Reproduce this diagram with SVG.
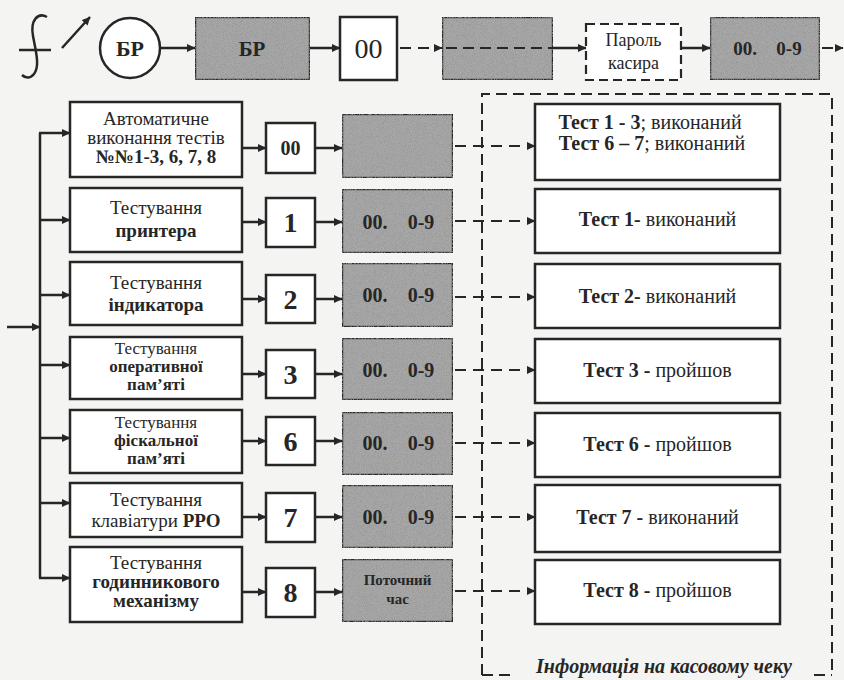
<svg xmlns="http://www.w3.org/2000/svg" width="844" height="680" viewBox="0 0 844 680" font-family="'Liberation Serif', 'Times New Roman', Tinos, 'DejaVu Serif', 'Noto Serif', serif">
<style>
text{font-family:'Liberation Serif','Times New Roman',Tinos,'DejaVu Serif','Noto Serif',serif;fill:#262626;text-anchor:middle}
.b{font-weight:bold}
.box{fill:#fff;stroke:#262626;stroke-width:2.5}
.gr{fill:#a7a7a7;stroke:#262626;stroke-width:2.5}
.dbox{fill:#fff;stroke:#262626;stroke-width:2.2;stroke-dasharray:9 5}
.ln{fill:none;stroke:#262626;stroke-width:2.5}
.arr{fill:none;stroke:#262626;stroke-width:2.5;marker-end:url(#ah)}
.darr{fill:none;stroke:#262626;stroke-width:2.2;stroke-dasharray:11 7;marker-end:url(#ah)}
.dl{fill:none;stroke:#262626;stroke-width:2;stroke-dasharray:11 6}
.t18{font-size:19px}
.t17{font-size:17px}
.t19{font-size:20px}
.t26{font-size:28px}
</style>
<defs>
<marker id="ah" markerUnits="userSpaceOnUse" markerWidth="9" markerHeight="9" refX="8" refY="4.5" orient="auto">
<path d="M0,0.5 L8.5,4.5 L0,8.5 z" fill="#262626"/>
</marker>
<filter id="grain" x="0" y="0" width="100%" height="100%">
<feTurbulence type="fractalNoise" baseFrequency="1.1" numOctaves="2" seed="4" result="n"/>
<feColorMatrix in="n" type="matrix" values="0 0 0 0 0.3  0 0 0 0 0.3  0 0 0 0 0.3  2.4 0 0 0 -1.0" result="s"/>
<feComposite in="s" in2="SourceGraphic" operator="in" result="c"/>
<feMerge><feMergeNode in="SourceGraphic"/><feMergeNode in="c"/></feMerge>
</filter>
</defs>
<rect width="844" height="680" fill="#f4f4f2"/>

<!-- top row -->
<g id="switch">
<path class="ln" d="M47,17 C38,12 30,20 33,36 C36,52 40,66 34,74 C30,79 25,78 22,75" stroke-width="2"/>
<line class="ln" x1="19" y1="50" x2="51" y2="50" stroke-width="2"/>
<line class="arr" x1="62" y1="48" x2="90" y2="17" stroke-width="2"/>
</g>
<g id="br-circle">
<circle cx="130" cy="48" r="30" fill="#fff" stroke="#262626" stroke-width="2.5"/>
<text class="b" x="130" y="56" font-size="22">БР</text>
</g>
<g id="br-box">
<rect class="gr" x="195" y="17" width="115" height="63" filter="url(#grain)"/>
<text class="b" x="252" y="56" font-size="21">БР</text>
</g>
<g id="zero-box">
<rect class="box" x="340" y="17" width="57" height="63"/>
<text x="368.5" y="58" font-size="28">00</text>
</g>
<g id="blank-top">
<rect class="gr" x="442" y="17" width="111" height="63" filter="url(#grain)"/>
</g>
<g id="password">
<rect class="dbox" x="586" y="24" width="95" height="56"/>
<text x="633.5" y="46" font-size="18">Пароль</text>
<text x="633.5" y="69" font-size="18">касира</text>
</g>
<g id="code-top">
<rect class="gr" x="710" y="17" width="110" height="63" filter="url(#grain)"/>
<text class="b" x="745" y="55" font-size="19">00.</text>
<text class="b" x="789" y="55" font-size="19">0-9</text>
</g>

<!-- left column -->
<g id="auto-tests">
<rect class="box" x="70" y="102" width="172" height="75"/>
<text class="t18" x="156" y="125">Автоматичне</text>
<text class="t18" x="156" y="144">виконання тестів</text>
<text class="t18 b" x="156" y="163">№№1-3, 6, 7, 8</text>
</g>
<g id="printer">
<rect class="box" x="70" y="188" width="172" height="64"/>
<text class="t18" x="156" y="214">Тестування</text>
<text class="t18 b" x="156" y="237">принтера</text>
</g>
<g id="indicator">
<rect class="box" x="70" y="262" width="172" height="63"/>
<text class="t18" x="156" y="289">Тестування</text>
<text class="t18 b" x="156" y="311">індикатора</text>
</g>
<g id="ram">
<rect class="box" x="70" y="337" width="172" height="62"/>
<text class="t17" x="156" y="354">Тестування</text>
<text class="t17 b" x="156" y="372">оперативної</text>
<text class="t17 b" x="156" y="390">пам’яті</text>
</g>
<g id="fiscal">
<rect class="box" x="70" y="410" width="172" height="63"/>
<text class="t17" x="156" y="428">Тестування</text>
<text class="t17 b" x="156" y="446">фіскальної</text>
<text class="t17 b" x="156" y="464">пам’яті</text>
</g>
<g id="keyboard">
<rect class="box" x="70" y="483" width="172" height="54"/>
<text class="t18" x="156" y="506">Тестування</text>
<text class="t18" x="156" y="527">клавіатури <tspan class="b">РРО</tspan></text>
</g>
<g id="clock">
<rect class="box" x="70" y="547" width="172" height="75"/>
<text class="t18" x="156" y="569">Тестування</text>
<text class="t18 b" x="156" y="588">годинникового</text>
<text class="t18 b" x="156" y="607">механізму</text>
</g>

<!-- number boxes -->
<g id="n00"><rect class="box" x="266" y="123" width="49" height="50"/><text class="b" x="290.5" y="155" font-size="20">00</text></g>
<g id="n1"><rect class="box" x="266" y="198" width="49" height="49"/><text class="t26 b" x="290.5" y="232">1</text></g>
<g id="n2"><rect class="box" x="266" y="275" width="49" height="48"/><text class="t26 b" x="290.5" y="309">2</text></g>
<g id="n3"><rect class="box" x="266" y="350" width="49" height="48"/><text class="t26 b" x="290.5" y="384">3</text></g>
<g id="n6"><rect class="box" x="266" y="417" width="49" height="48"/><text class="t26 b" x="290.5" y="451">6</text></g>
<g id="n7"><rect class="box" x="266" y="493" width="49" height="49"/><text class="t26 b" x="290.5" y="527">7</text></g>
<g id="n8"><rect class="box" x="266" y="568" width="49" height="49"/><text class="t26 b" x="290.5" y="602">8</text></g>

<!-- gray display boxes -->
<g id="g1"><rect class="gr" x="342" y="114" width="111" height="64" filter="url(#grain)"/></g>
<g id="g2"><rect class="gr" x="342" y="189" width="111" height="64" filter="url(#grain)"/><text class="b t19" x="375" y="229">00.</text><text class="b t19" x="421" y="229">0-9</text></g>
<g id="g3"><rect class="gr" x="342" y="263" width="111" height="64" filter="url(#grain)"/><text class="b t19" x="375" y="302">00.</text><text class="b t19" x="421" y="302">0-9</text></g>
<g id="g4"><rect class="gr" x="342" y="338" width="111" height="62" filter="url(#grain)"/><text class="b t19" x="375" y="377">00.</text><text class="b t19" x="421" y="377">0-9</text></g>
<g id="g5"><rect class="gr" x="342" y="412" width="111" height="63" filter="url(#grain)"/><text class="b t19" x="375" y="450">00.</text><text class="b t19" x="421" y="450">0-9</text></g>
<g id="g6"><rect class="gr" x="342" y="485" width="111" height="63" filter="url(#grain)"/><text class="b t19" x="375" y="524">00.</text><text class="b t19" x="421" y="524">0-9</text></g>
<g id="g7"><rect class="gr" x="342" y="559" width="111" height="63" filter="url(#grain)"/><text class="b" x="397.5" y="585" font-size="15">Поточний</text><text class="b" x="397.5" y="604" font-size="15">час</text></g>

<!-- results -->
<g id="receipt-frame">
<path class="dl" d="M482,675 V94 H832 V675"/>
<path class="dl" d="M482,675 H514"/>
<path class="dl" d="M814,675 H832"/>
<text class="b" x="664" y="673" font-size="20" font-style="italic">Інформація на касовому чеку</text>
</g>
<g id="r1"><rect class="box" x="535" y="104" width="245" height="76"/>
<text class="t19" x="650" y="129"><tspan class="b">Тест 1 - 3</tspan>; виконаний</text>
<text class="t19" x="652" y="150"><tspan class="b">Тест 6 – 7</tspan>; виконаний</text></g>
<g id="r2"><rect class="box" x="535" y="189" width="245" height="64"/><text class="t19" x="657.5" y="226"><tspan class="b">Тест 1-</tspan> виконаний</text></g>
<g id="r3"><rect class="box" x="535" y="264" width="245" height="64"/><text class="t19" x="657.5" y="303"><tspan class="b">Тест 2-</tspan> виконаний</text></g>
<g id="r4"><rect class="box" x="535" y="339" width="245" height="64"/><text class="t19" x="657.5" y="377"><tspan class="b">Тест 3 -</tspan> пройшов</text></g>
<g id="r5"><rect class="box" x="535" y="413" width="245" height="64"/><text class="t19" x="657.5" y="451"><tspan class="b">Тест 6 -</tspan> пройшов</text></g>
<g id="r6"><rect class="box" x="535" y="485" width="245" height="67"/><text class="t19" x="657.5" y="524"><tspan class="b">Тест 7 -</tspan> виконаний</text></g>
<g id="r7"><rect class="box" x="535" y="560" width="245" height="64"/><text class="t19" x="657.5" y="597"><tspan class="b">Тест 8 -</tspan> пройшов</text></g>

<!-- connectors -->
<g id="connectors">
<line class="arr" x1="160" y1="48" x2="195" y2="48"/>
<line class="arr" x1="310" y1="48" x2="340" y2="48"/>
<line class="darr" x1="400" y1="48" x2="442" y2="48"/>
<line class="dl" x1="446" y1="48" x2="553" y2="48"/>
<line class="arr" x1="553" y1="48" x2="586" y2="48"/>
<line class="arr" x1="681" y1="48" x2="710" y2="48"/>
<line class="darr" x1="822" y1="48" x2="843" y2="48" stroke-dasharray="7 5"/>

<line class="arr" x1="7" y1="327" x2="40" y2="327"/>
<line class="ln" x1="40" y1="133" x2="40" y2="578"/>
<line class="arr" x1="39" y1="133" x2="70" y2="133"/>
<line class="arr" x1="39" y1="220" x2="70" y2="220"/>
<line class="arr" x1="39" y1="295" x2="70" y2="295"/>
<line class="arr" x1="39" y1="365" x2="70" y2="365"/>
<line class="arr" x1="39" y1="438" x2="70" y2="438"/>
<line class="arr" x1="39" y1="503" x2="70" y2="503"/>
<line class="arr" x1="39" y1="578" x2="70" y2="578"/>

<line class="arr" x1="242" y1="148" x2="266" y2="148"/>
<line class="arr" x1="242" y1="222" x2="266" y2="222"/>
<line class="arr" x1="242" y1="299" x2="266" y2="299"/>
<line class="arr" x1="242" y1="374" x2="266" y2="374"/>
<line class="arr" x1="242" y1="441" x2="266" y2="441"/>
<line class="arr" x1="242" y1="517" x2="266" y2="517"/>
<line class="arr" x1="242" y1="592" x2="266" y2="592"/>

<line class="arr" x1="315" y1="148" x2="342" y2="148"/>
<line class="arr" x1="315" y1="222" x2="342" y2="222"/>
<line class="arr" x1="315" y1="299" x2="342" y2="299"/>
<line class="arr" x1="315" y1="374" x2="342" y2="374"/>
<line class="arr" x1="315" y1="441" x2="342" y2="441"/>
<line class="arr" x1="315" y1="517" x2="342" y2="517"/>
<line class="arr" x1="315" y1="592" x2="342" y2="592"/>

<line class="darr" x1="455" y1="146" x2="535" y2="146"/>
<line class="darr" x1="455" y1="221" x2="535" y2="221"/>
<line class="darr" x1="455" y1="297" x2="535" y2="297"/>
<line class="darr" x1="455" y1="370" x2="535" y2="370"/>
<line class="darr" x1="455" y1="443" x2="535" y2="443"/>
<line class="darr" x1="455" y1="517" x2="535" y2="517"/>
<line class="darr" x1="455" y1="591" x2="535" y2="591"/>
</g>
</svg>
